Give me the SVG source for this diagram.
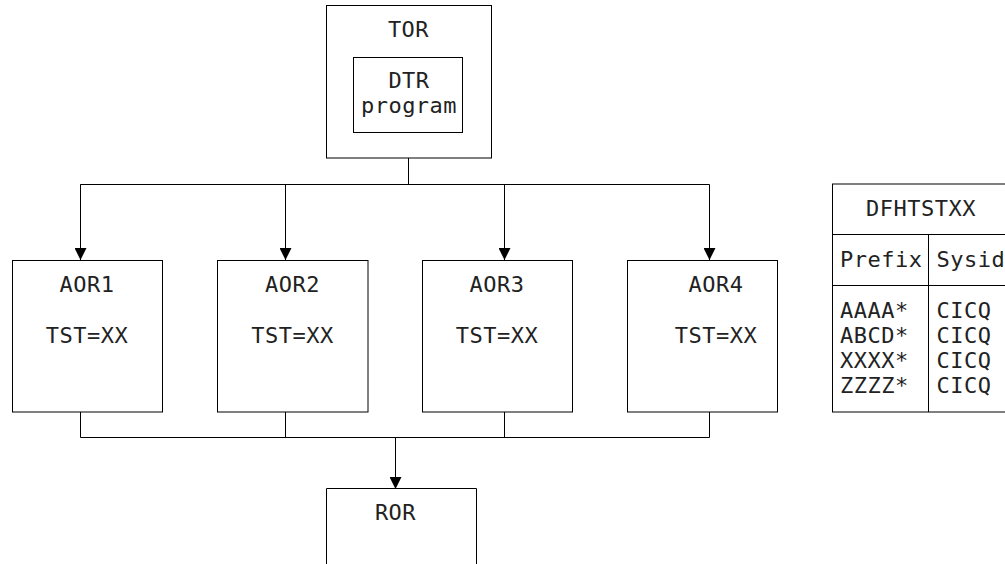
<svg xmlns="http://www.w3.org/2000/svg" width="1005" height="564" viewBox="0 0 1005 564">
<style>
.box{fill:#fff;stroke:#000;stroke-width:1}
.ln{fill:none;stroke:#000;stroke-width:1}
text{font-family:"DejaVu Sans Mono","Liberation Mono",monospace;font-size:22px;letter-spacing:0.5px;fill:#222}
.c{text-anchor:middle}
</style>
<defs>
<marker id="arr" markerWidth="12" markerHeight="12" refX="12" refY="6" orient="auto" markerUnits="userSpaceOnUse" viewBox="0 0 12 12">
<path d="M0,0 L12,6 L0,12 Z" fill="#000"/>
</marker>
</defs>
<rect width="1005" height="564" fill="#fff"/>
<g id="connectors">
<polyline class="ln" points="408.5,158 408.5,184.5"/>
<polyline class="ln" points="80.5,260 80.5,184.5 709.5,184.5 709.5,260" marker-end="url(#arr)"/>
<path class="ln" d="M80.5,184.5 V260" marker-end="url(#arr)"/>
<path class="ln" d="M285.5,184.5 V260" marker-end="url(#arr)"/>
<path class="ln" d="M504.5,184.5 V260" marker-end="url(#arr)"/>
<polyline class="ln" points="80.5,412 80.5,437.5 709.5,437.5 709.5,412"/>
<path class="ln" d="M285.5,412 V437.5 M504.5,412 V437.5"/>
<path class="ln" d="M395.5,437.5 V489" marker-end="url(#arr)"/>
</g>
<g id="TOR">
<rect class="box" x="326.5" y="5.5" width="165" height="152.5"/>
<text class="c" x="408.5" y="37">TOR</text>
</g>
<g id="DTR">
<rect class="box" x="353.5" y="57.5" width="109" height="75"/>
<text class="c" x="409" y="88">DTR</text>
<text class="c" x="409" y="113">program</text>
</g>
<g id="AOR1">
<rect class="box" x="12.5" y="260.5" width="150" height="151.5"/>
<text class="c" x="87" y="291.5">AOR1</text>
<text class="c" x="87" y="343">TST=XX</text>
</g>
<g id="AOR2">
<rect class="box" x="217.5" y="260.5" width="150.5" height="151.5"/>
<text class="c" x="292.5" y="291.5">AOR2</text>
<text class="c" x="292.5" y="343">TST=XX</text>
</g>
<g id="AOR3">
<rect class="box" x="422.5" y="260.5" width="150" height="151.5"/>
<text class="c" x="497" y="291.5">AOR3</text>
<text class="c" x="497" y="343">TST=XX</text>
</g>
<g id="AOR4">
<rect class="box" x="627.5" y="260.5" width="150" height="151.5"/>
<text class="c" x="716" y="291.5">AOR4</text>
<text class="c" x="716" y="343">TST=XX</text>
</g>
<g id="ROR">
<path class="ln" d="M326.5,570 V488.5 H476.5 V570"/>
<text class="c" x="395.5" y="520">ROR</text>
</g>
<g id="DFHTSTXX">
<rect class="box" x="832.5" y="184" width="190" height="228"/>
<path class="ln" d="M832.5,234.5 H1010 M832.5,285.5 H1010 M928.5,234.5 V412"/>
<text class="c" x="921" y="215.5">DFHTSTXX</text>
<text x="840" y="266.5">Prefix</text>
<text x="936.5" y="266.5">Sysid</text>
<text x="840" y="317.5">AAAA*</text>
<text x="840" y="342.5">ABCD*</text>
<text x="840" y="367.5">XXXX*</text>
<text x="840" y="392.5">ZZZZ*</text>
<text x="936.5" y="317.5">CICQ</text>
<text x="936.5" y="342.5">CICQ</text>
<text x="936.5" y="367.5">CICQ</text>
<text x="936.5" y="392.5">CICQ</text>
</g>
</svg>
